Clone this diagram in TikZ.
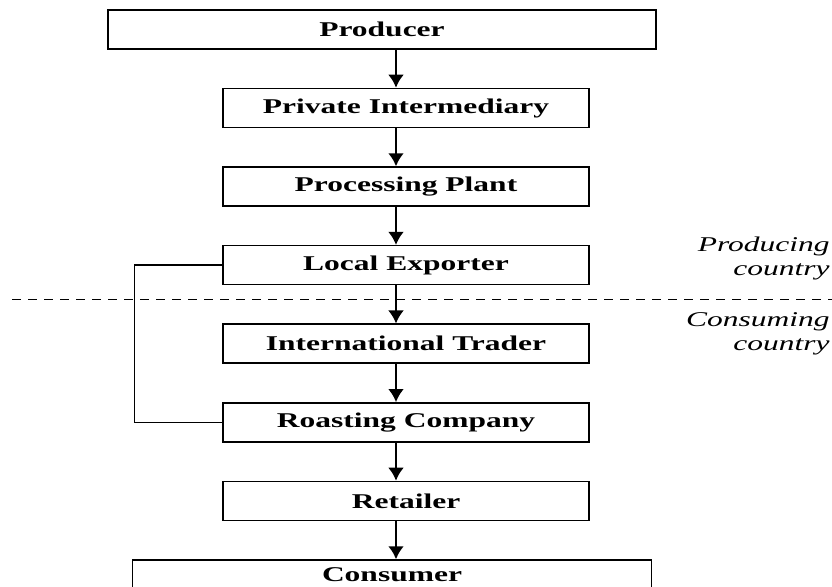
\documentclass[tikz,border=0pt]{standalone}
\usepackage{fontspec}
\setmainfont{Liberation Serif}
\newfontfamily\chainfont[FakeStretch=1.5]{Liberation Serif}
\usetikzlibrary{positioning, arrows.meta}
\tikzset{
  stage/.style={
    draw, line width=0.8pt, minimum width=183pt, minimum height=19.5pt,
    inner sep=0pt, font=\chainfont\bfseries\fontsize{10.5}{12}\selectfont
  },
  flow/.style={-{Latex[length=6.5pt,width=8pt]}, line width=1.3pt},
  border/.style={dash pattern=on 4.5pt off 3.5pt, line width=0.5pt},
  bypass/.style={line width=0.7pt},
  zone/.style={
    font=\chainfont\itshape\fontsize{10.5}{12}\selectfont,
    align=right, anchor=east, inner sep=0pt
  },
  node distance=19pt
}

\begin{document}
\begin{tikzpicture}[x=0.5pt, y=-0.5pt]
      \useasboundingbox (0,0) rectangle (832,587);

      \node[stage, minimum width=274pt] (prod) at (382,29.5) {Producer};
      \node[stage] (inter) at (406,108) {Private Intermediary};
      \node[stage, below = of inter] (plant) {Processing Plant};
      \node[stage, below = of plant] (exp) {Local Exporter};
      \node[stage, below = of exp] (trader) {International Trader};
      \node[stage, below = of trader] (roast) {Roasting Company};
      \node[stage, below = of roast] (ret) {Retailer};
      \node[stage, minimum width=259.5pt, text depth=5pt, below = of ret, xshift=-7pt] (cons) {Consumer};

      \coordinate (spine) at (396,0);
      \coordinate (divL) at (12,300);
      \coordinate (divR) at (832,300);

      % producing / consuming border
      \draw[border] (divL) -- (divR);
      \node[zone] (prodlbl) at (830,258) {Producing\\country};
      \node[zone] (conslbl) at (830,334) {Consuming\\country};

      \path[flow] (prod.south -| spine)   edge (inter.north -| spine)
      (inter.south -| spine)  edge (plant.north -| spine)
      (plant.south -| spine)  edge (exp.north -| spine)
      (exp.south -| spine)    edge (trader.north -| spine)
      (trader.south -| spine) edge (roast.north -| spine)
      (roast.south -| spine)  edge (ret.north -| spine)
      (ret.south -| spine)    edge (cons.north -| spine);

      \draw[bypass] (exp.west) -- ++(-88,0) |- (roast.west);

    \end{tikzpicture}
\end{document}
